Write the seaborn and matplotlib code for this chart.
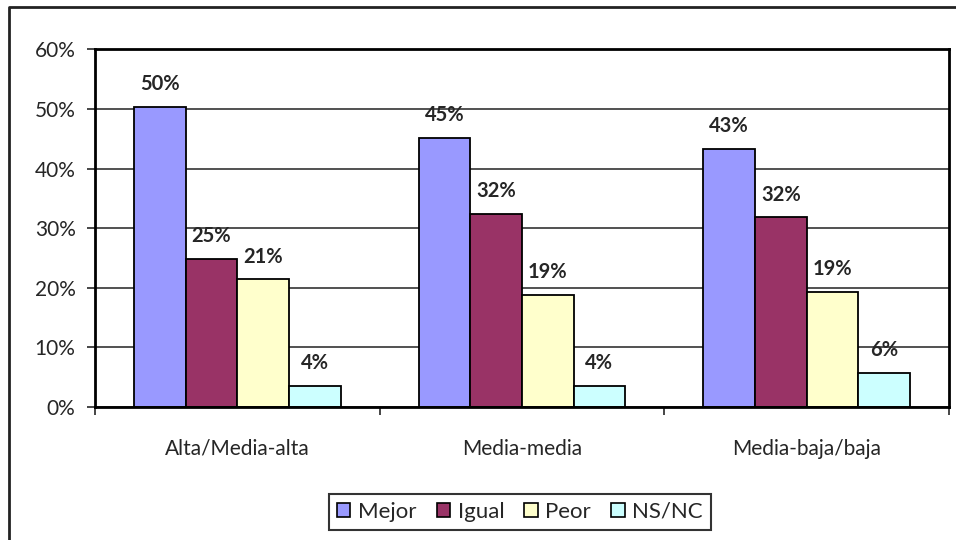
import pandas as pd
import numpy as np
import matplotlib
matplotlib.use('Agg')
import matplotlib.pyplot as plt
import seaborn as sns
from matplotlib.lines import Line2D
from matplotlib.patches import Patch

sns.set_style('white')
plt.rcParams['font.family'] = ['Lato', 'DejaVu Sans']

categorias = ['Alta/Media-alta', 'Media-media', 'Media-baja/baja']
respuestas = ['Mejor', 'Igual', 'Peor', 'NS/NC']
mejor = [50.3, 45.2, 43.3]
igual = [24.8, 32.4, 31.8]
peor = [21.4, 18.8, 19.3]
nsnc = [3.5, 3.6, 5.7]
colores = ['#9999FF', '#993366', '#FFFFCC', '#CCFFFF']
yticks = [0, 10, 20, 30, 40, 50, 60]

df = pd.DataFrame({
    'categoria': categorias * 4,
    'respuesta': np.repeat(respuestas, 3),
    'valor': mejor + igual + peor + nsnc,
})

fig = plt.figure(figsize=(9.56, 5.4), dpi=100)
ax = fig.add_axes([95/956, 1-407/540, (949-95)/956, (407-49.3)/540])

sns.barplot(data=df, x='categoria', y='valor', hue='respuesta', order=categorias,
            hue_order=respuestas, palette=colores, width=0.725, gap=0,
            edgecolor='black', linewidth=1.3, legend=False, ax=ax, saturation=1)

# etiquetas de datos
for cont in ax.containers:
    for bar in cont:
        h = bar.get_height()
        ax.annotate(f'{h:.0f}%', (bar.get_x() + bar.get_width()/2, h),
                    xytext=(0, 16.5), textcoords='offset points',
                    ha='center', va='center', fontsize=14.5, fontweight='bold')

ax.set_ylim(0, 60)
ax.set_xlim(-0.5, 2.5)
ax.set_yticks(yticks)
ax.set_yticklabels([f'{t}%' for t in yticks], fontsize=15)
ax.yaxis.grid(True, color='#222222', linewidth=1.1)
ax.set_axisbelow(True)
ax.tick_params(axis='y', length=6, width=1.2, direction='out', pad=8, left=True)
ax.set_xticks([0, 1, 2])
ax.set_xticklabels(categorias, fontsize=15)
ax.set_xticks([-0.5, 0.5, 1.5, 2.5], minor=True)
ax.tick_params(axis='x', which='major', length=0, pad=23)
ax.tick_params(axis='x', which='minor', length=6, width=1.2, direction='out', bottom=True)
ax.set_xlabel('')
ax.set_ylabel('')
for s in ax.spines.values():
    s.set_visible(True)
    s.set_color('black')
    s.set_linewidth(2)

handles = [Patch(facecolor=c, edgecolor='black', linewidth=1.2) for c in colores]
leg = fig.legend(handles, respuestas, loc='center', bbox_to_anchor=(520/956, 1-512/540),
                 ncol=4, fontsize=16, frameon=True, fancybox=False, handlelength=0.6,
                 handleheight=0.6, handletextpad=0.35, columnspacing=0.9,
                 borderpad=0.35)
leg.get_frame().set_edgecolor('black')
leg.get_frame().set_linewidth(1.5)

# marco exterior del gráfico
fig.add_artist(Line2D([9/956, 9/956, 1], [0, 1-7/540, 1-7/540],
                      transform=fig.transFigure, color='#222222', linewidth=2))

fig.savefig('out.png', dpi=100)
